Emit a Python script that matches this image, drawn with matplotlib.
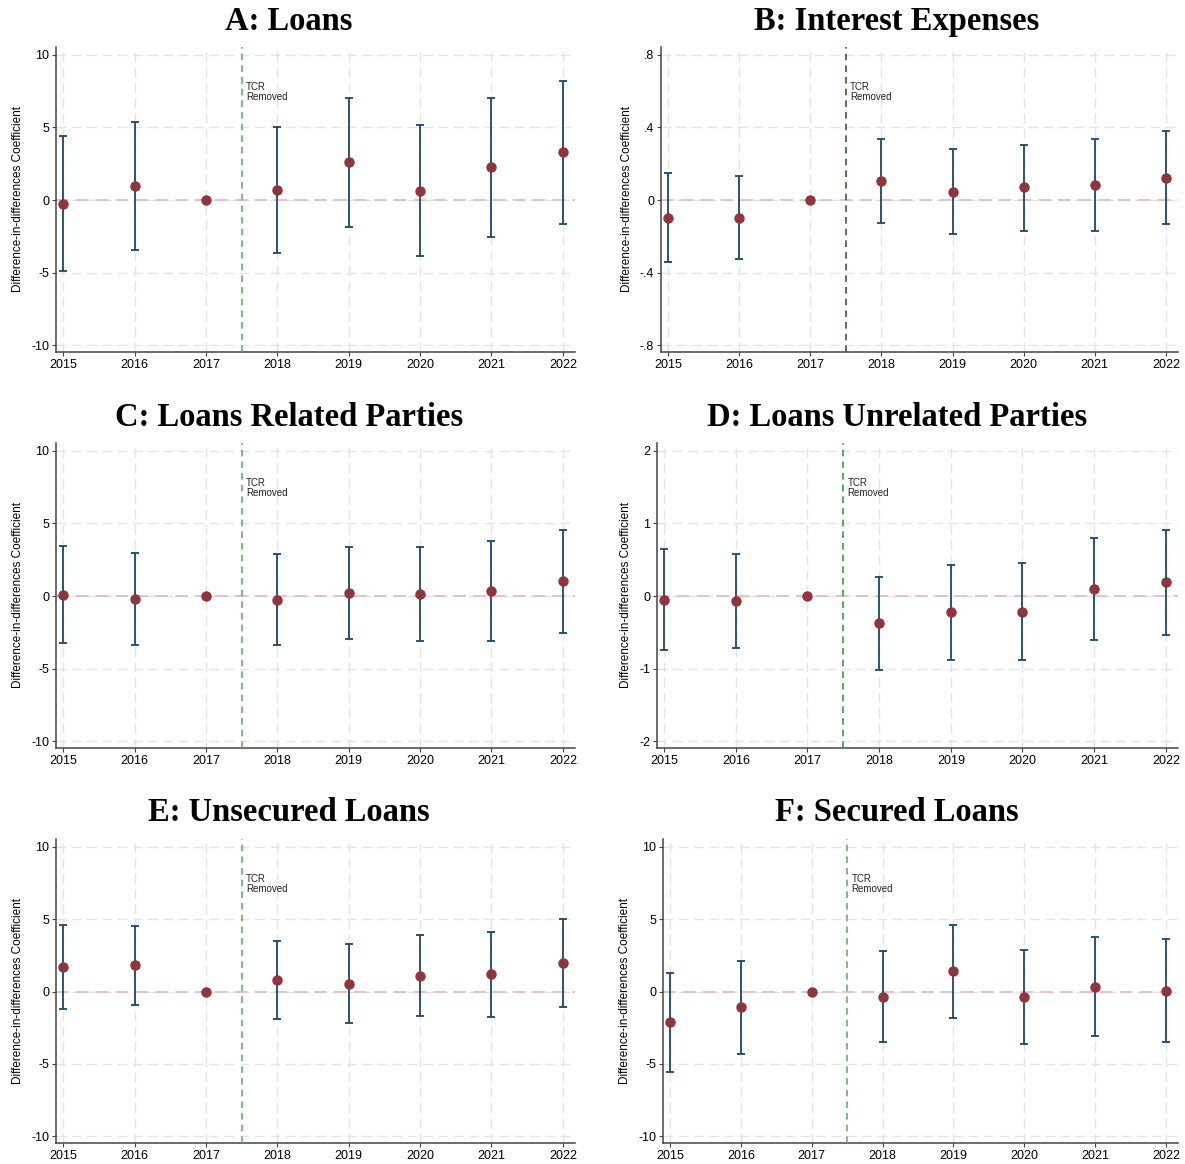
import numpy as np
import matplotlib
matplotlib.use('Agg')
from matplotlib import pyplot as plt

plt.rcParams['font.family'] = ['Liberation Sans', 'DejaVu Sans']
plt.rcParams['axes.unicode_minus'] = False

years = [2015, 2016, 2017, 2018, 2019, 2020, 2021, 2022]
titles = ['A: Loans', 'B: Interest Expenses', 'C: Loans Related Parties',
          'D: Loans Unrelated Parties', 'E: Unsecured Loans', 'F: Secured Loans']

# point estimates and 95% CI bounds
coef_a = [-0.25, 0.94, 0, 0.71, 2.60, 0.64, 2.25, 3.29]
lo_a = [-4.92, -3.44, 0, -3.63, -1.84, -3.86, -2.53, -1.63]
hi_a = [4.43, 5.36, 0, 5.05, 7.05, 5.17, 7.05, 8.18]

coef_b = [-0.097, -0.097, 0, 0.103, 0.046, 0.070, 0.081, 0.123]
lo_b = [-0.343, -0.328, 0, -0.125, -0.185, -0.169, -0.169, -0.134]
hi_b = [0.149, 0.134, 0, 0.334, 0.281, 0.306, 0.334, 0.382]

coef_c = [0.09, -0.18, 0, -0.25, 0.18, 0.14, 0.32, 1.01]
lo_c = [-3.26, -3.35, 0, -3.39, -2.98, -3.10, -3.10, -2.52]
hi_c = [3.46, 2.96, 0, 2.89, 3.37, 3.37, 3.76, 4.54]

coef_d = [-0.055, -0.074, 0, -0.372, -0.221, -0.217, 0.092, 0.194]
lo_d = [-0.74, -0.722, 0, -1.016, -0.876, -0.885, -0.613, -0.539]
hi_d = [0.644, 0.575, 0, 0.267, 0.433, 0.452, 0.797, 0.912]

coef_e = [1.68, 1.82, 0, 0.78, 0.55, 1.10, 1.20, 2.00]
lo_e = [-1.22, -0.90, 0, -1.93, -2.20, -1.70, -1.75, -1.05]
hi_e = [4.60, 4.56, 0, 3.52, 3.30, 3.90, 4.15, 5.00]

coef_f = [-2.14, -1.10, 0, -0.35, 1.40, -0.35, 0.30, 0.05]
lo_f = [-5.55, -4.33, 0, -3.52, -1.80, -3.60, -3.10, -3.50]
hi_f = [1.29, 2.09, 0, 2.83, 4.60, 2.90, 3.80, 3.60]

yticks_big = [-10, -5, 0, 5, 10]
yticks_b = [-0.8, -0.4, 0, 0.4, 0.8]
ylabels_b = ['-.8', '-.4', '0', '.4', '.8']
yticks_d = [-2, -1, 0, 1, 2]

panels = [
    (coef_a, lo_a, hi_a, yticks_big, None, '#5cb85c'),
    (coef_b, lo_b, hi_b, yticks_b, ylabels_b, '#2a6a2a'),
    (coef_c, lo_c, hi_c, yticks_big, None, '#5cb85c'),
    (coef_d, lo_d, hi_d, yticks_d, None, '#3a9d3a'),
    (coef_e, lo_e, hi_e, yticks_big, None, '#5cb85c'),
    (coef_f, lo_f, hi_f, yticks_big, None, '#5cb85c'),
]

# axes boxes in pixels: left, right, top, bottom
boxes = [(56, 575, 47, 352), (661, 1178, 47, 352),
         (56, 575, 443, 748), (657, 1178, 443, 748),
         (56, 575, 839, 1143), (663, 1178, 839, 1143)]
# title centre x and baseline y in pixels
title_pos = [(289, 30), (897, 30), (289, 426), (897, 426), (289, 821), (897, 821)]

W, H = 1185, 1164
fig = plt.figure(figsize=(W / 100, H / 100), dpi=100)

for i, (coef, lo, hi, yt, ytl, vcol) in enumerate(panels):
    l, r, t, b = boxes[i]
    ax = fig.add_axes([l / W, 1 - b / H, (r - l) / W, (b - t) / H])
    coef = np.array(coef)
    err = [coef - np.array(lo), np.array(hi) - coef]
    ax.errorbar(years, coef, yerr=err, fmt='none', ecolor='#1a476f',
                elinewidth=1.3, capsize=3, capthick=1.3, zorder=4)
    ax.plot(years, coef, 'o', color='#90353b', ms=6.5, zorder=5)

    span = yt[-1] - yt[0]
    ax.set_ylim(yt[0] - span * 0.024, yt[-1] + span * 0.0275)
    ax.set_xlim(2014.9, 2022.17)
    ax.set_yticks(yt)
    if ytl is not None:
        ax.set_yticklabels(ytl)
    ax.set_xticks(years)
    ax.set_axisbelow(True)
    ax.grid(True, ls=(0, (7, 4)), color='#e4e4e4', lw=1.0)
    ax.axhline(0, ls=(0, (7, 4)), color='#e0bfc4', lw=1.3, zorder=2)
    ax.axvline(2017.5, ls=(0, (4, 3)), color=vcol, lw=1.2, zorder=3)
    ax.text(2017.56, 0.885, 'TCR\nRemoved', transform=ax.get_xaxis_transform(),
            fontsize=7, va='top', ha='left', linespacing=0.95, color='#222222')

    for s in ['top', 'right']:
        ax.spines[s].set_visible(False)
    for s in ['left', 'bottom']:
        ax.spines[s].set_color('#444444')
        ax.spines[s].set_linewidth(1.1)
    ax.tick_params(axis='both', labelsize=9, length=3, color='#444444', pad=2)
    ax.set_ylabel('Difference-in-differences Coefficient', fontsize=8.5, labelpad=5)

    tx, ty = title_pos[i]
    fig.text(tx / W, 1 - ty / H, titles[i], fontsize=23.5, fontweight='bold',
             family=['Liberation Serif', 'DejaVu Serif'], ha='center', va='baseline')

fig.savefig('out.png', dpi=100, facecolor='white')
